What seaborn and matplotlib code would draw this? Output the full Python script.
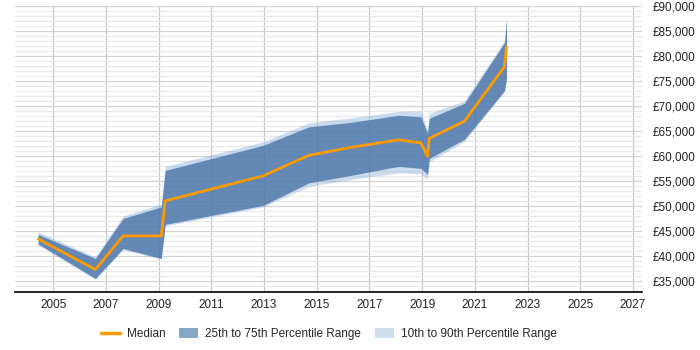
import numpy as np
import pandas as pd
import matplotlib
matplotlib.use("Agg")
import matplotlib.pyplot as plt
import seaborn as sns
from matplotlib.lines import Line2D
from matplotlib.patches import Patch
from matplotlib.ticker import MultipleLocator, FuncFormatter

years = [2004.43, 2006.6, 2007.65, 2009.1, 2009.25, 2012.96, 2014.7, 2016.3,
         2018.1, 2018.95, 2019.2, 2019.27, 2020.6, 2022.12, 2022.2]
median = [43400, 37300, 44000, 44000, 51000, 56000, 60100, 61700,
          63200, 62600, 59900, 63500, 66900, 77800, 81800]
p25 = [42400, 35500, 41500, 39500, 46300, 50100, 54600, 56100,
       57900, 57500, 56300, 59500, 63300, 73000, 75500]
p75 = [44300, 39500, 47500, 49800, 57100, 62100, 65800, 66700,
       68100, 67800, 64500, 67500, 70500, 82600, 87100]
p10 = [42200, 35300, 41200, 39400, 46000, 49800, 53900, 55300,
       56600, 56400, 55300, 58800, 62900, 72800, 75000]
p90 = [44800, 39800, 48000, 50400, 57900, 62800, 66600, 67600,
       68900, 69000, 65000, 68500, 71000, 83000, 87500]

df = pd.DataFrame({"year": years, "median": median, "p25": p25, "p75": p75,
                   "p10": p10, "p90": p90})

sns.set_style("white")
plt.rcParams["font.family"] = ["Liberation Sans", "DejaVu Sans"]

fig = plt.figure(figsize=(7, 3.5), dpi=100)
ax = fig.add_axes([15/700, 1 - 292.3/350, (642 - 15)/700, (292.3 - 5.7)/350])

ax.grid(axis="x", which="major", color="#c8c8c8", lw=0.9, zorder=0)
ax.grid(axis="y", which="major", color="#d2d2d2", lw=0.9, zorder=0)
ax.grid(axis="y", which="minor", color="#e8e8e8", lw=0.8, zorder=0)
ax.set_axisbelow(True)

ax.fill_between(df["year"], df["p10"], df["p90"], color="#90b3dd", alpha=0.45,
                lw=0, zorder=2)
ax.fill_between(df["year"], df["p25"], df["p75"], color="#3d6aa0", alpha=0.72,
                lw=0, zorder=3)
sns.lineplot(data=df, x="year", y="median", ax=ax, color="#ff9a00", lw=2,
             zorder=4, legend=False)

ax.set_xlim(2003.55, 2027.34)
ax.set_ylim(32740, 90000)
ax.set_xticks(range(2005, 2028, 2))
ax.yaxis.set_minor_locator(MultipleLocator(1000))
ax.set_yticks(range(35000, 90001, 5000))
ax.yaxis.set_major_formatter(FuncFormatter(lambda v, p: f"£{int(v):,}"))
ax.yaxis.tick_right()
for s in ["top", "right", "left"]:
    ax.spines[s].set_visible(False)
ax.spines["bottom"].set_color("#000000")
ax.spines["bottom"].set_linewidth(1.2)
ax.spines["bottom"].set_zorder(5)
ax.tick_params(axis="both", which="both", length=0, labelsize=8.5, colors="#222222")
ax.tick_params(axis="y", pad=8)
ax.tick_params(axis="x", pad=5)
ax.set_xlabel("")
ax.set_ylabel("")

handles = [Line2D([0], [0], color="#ff9a00", lw=2.5),
           Patch(facecolor="#88a6c8", edgecolor="none"),
           Patch(facecolor="#cfdff0", edgecolor="none")]
labels = ["Median", "25th to 75th Percentile Range", "10th to 90th Percentile Range"]
fig.legend(handles, labels, loc="center", bbox_to_anchor=(0.47, 1 - 334/350),
           ncol=3, frameon=False, fontsize=8.5, handlelength=1.6,
           handleheight=1.0, columnspacing=1.2, handletextpad=0.6)

fig.savefig("out.png", dpi=100)
